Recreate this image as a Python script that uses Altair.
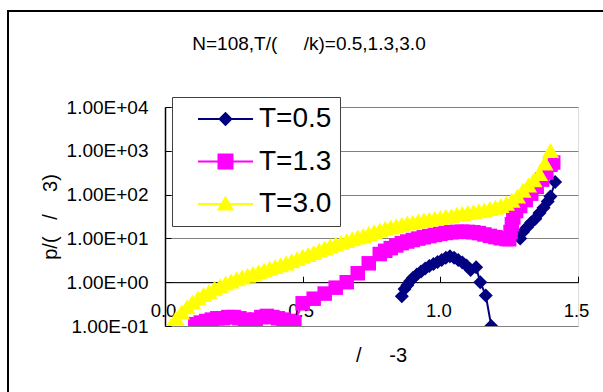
import altair as alt
import pandas as pd

# ---------------- data ----------------
series_names = ["T=0.5", "T=1.3", "T=3.0"]
series_colors = ["#000080", "#FF00FF", "#FFFF00"]

# T=0.5 (two separate branches, not joined)
t05a_x = [0.86, 0.87, 0.88, 0.89, 0.90, 0.915, 0.93, 0.945, 0.96, 0.975, 0.99, 1.005,
          1.02, 1.035, 1.05, 1.065, 1.08, 1.095, 1.11, 1.13, 1.145, 1.165, 1.185]
t05a_p = [0.48, 0.70, 0.85, 1.05, 1.25, 1.5, 1.75, 2.05, 2.35, 2.6, 2.9, 3.2,
          3.6, 3.9, 3.6, 3.2, 2.8, 2.4, 1.9, 2.2, 1.0, 0.5, 0.1]
t05b_x = [1.29, 1.30, 1.315, 1.33, 1.345, 1.36, 1.375, 1.39, 1.40, 1.417]
t05b_p = [10, 14, 18, 23, 28, 38, 50, 70, 90, 195]

# T=1.3
t13_x = [0.09, 0.11, 0.13, 0.15, 0.17, 0.19, 0.21, 0.23, 0.25, 0.27, 0.29, 0.31, 0.33,
         0.35, 0.37, 0.39, 0.41, 0.43, 0.45, 0.47,
         0.50, 0.54, 0.58, 0.62, 0.66, 0.70, 0.74, 0.78,
         0.80, 0.82, 0.84, 0.86, 0.88, 0.90, 0.92, 0.94, 0.96, 0.98, 1.00, 1.02, 1.04,
         1.06, 1.08, 1.10, 1.12, 1.14, 1.16, 1.18, 1.20, 1.22, 1.24, 1.25,
         1.255, 1.26, 1.265, 1.275, 1.29, 1.31, 1.33, 1.35, 1.37, 1.385, 1.40, 1.41]
t13_p = [0.06, 0.11, 0.12, 0.13, 0.14, 0.15, 0.15, 0.16, 0.16, 0.15, 0.14, 0.07, 0.14,
         0.16, 0.17, 0.16, 0.15, 0.14, 0.13, 0.12,
         0.33, 0.42, 0.55, 0.75, 1.0, 1.6, 2.7, 4.4,
         5.2, 6.0, 6.9, 7.8, 8.5, 9.2, 9.9, 10.6, 11.3, 12.0, 12.7, 13.3, 13.8,
         14.1, 14.2, 14.1, 13.8, 13.2, 12.3, 11.4, 10.7, 10.1, 9.7, 9.6,
         14, 21, 30, 42, 55, 75, 105, 150, 220, 320, 480, 540]

# T=3.0
t30_x = [0.02, 0.04, 0.06, 0.08, 0.10, 0.12, 0.14, 0.16, 0.18, 0.20,
         0.22, 0.24, 0.26, 0.28, 0.30, 0.32, 0.34, 0.36, 0.38, 0.40,
         0.42, 0.44, 0.46, 0.48, 0.50, 0.52, 0.54, 0.56, 0.58, 0.60,
         0.62, 0.64, 0.66, 0.68, 0.70, 0.72, 0.74, 0.76, 0.78, 0.80,
         0.82, 0.84, 0.86, 0.88, 0.90, 0.92, 0.94, 0.96, 0.98, 1.00,
         1.02, 1.04, 1.06, 1.08, 1.10, 1.12, 1.14, 1.16, 1.18, 1.20,
         1.22, 1.24, 1.26, 1.28, 1.30, 1.32, 1.34, 1.36, 1.38, 1.40]
t30_p = [0.100, 0.151, 0.209, 0.275, 0.355, 0.437, 0.525, 0.617, 0.724, 0.832,
         0.955, 1.07, 1.20, 1.32, 1.45, 1.58, 1.74, 1.91, 2.09, 2.29,
         2.51, 2.75, 3.09, 3.47, 3.89, 4.27, 4.79, 5.37, 6.03, 6.76,
         7.41, 8.13, 8.91, 9.77, 10.7, 11.7, 12.9, 14.1, 15.5, 17.0,
         18.2, 19.5, 20.9, 22.4, 23.4, 25.1, 26.3, 27.5, 28.8, 30.2,
         31.6, 33.1, 35.5, 37.2, 38.9, 40.7, 42.7, 44.7, 47.9, 51.3,
         56.2, 63.1, 74.1, 93.3, 126, 166, 219, 302, 525, 1020]

x_ticks = [0.0, 0.5, 1.0, 1.5]
y_ticks = [0.1, 1, 10, 100, 1000, 10000]
y_tick_labels = ["1.00E-01", "1.00E+00", "1.00E+01", "1.00E+02", "1.00E+03", "1.00E+04"]

NB = "\u00a0"
title_text = "N=108,T/(" + NB * 5 + "/k)=0.5,1.3,3.0"
x_title = "/" + NB * 5 + "-3"
y_title = "p/(" + NB * 3 + "/" + NB * 4 + "3)"

# ---------------- table ----------------
rows = []
for i, (x, p) in enumerate(zip(t05a_x, t05a_p)):
    rows.append({"series": "T=0.5", "seg": "a", "idx": i, "x": x, "p": p})
for i, (x, p) in enumerate(zip(t05b_x, t05b_p)):
    rows.append({"series": "T=0.5", "seg": "b", "idx": i, "x": x, "p": p})
for i, (x, p) in enumerate(zip(t13_x, t13_p)):
    rows.append({"series": "T=1.3", "seg": "a", "idx": i, "x": x, "p": p})
for i, (x, p) in enumerate(zip(t30_x, t30_p)):
    rows.append({"series": "T=3.0", "seg": "a", "idx": i, "x": x, "p": p})
df = pd.DataFrame(rows)

W, H = 413, 219
FONT = "Liberation Sans"

xs = alt.Scale(domain=[0, 1.5], nice=False, zero=False)
ys = alt.Scale(type="log", domain=[0.1, 10000], nice=False)

label_expr = ("[" + ",".join("'" + s + "'" for s in y_tick_labels) +
              "][round(log(datum.value)/LN10)+1]")

x_main_axis = alt.Axis(orient="bottom", offset=-H / 5, values=x_ticks, format=".1f",
                       labelFlush=False, labelOverlap=False, labelFontSize=18.5,
                       labelPadding=19, labelOffset=-2, labelFont=FONT, labelColor="black",
                       ticks=False, tickSize=0, domain=True, domainColor="black",
                       domainWidth=1, grid=False, title=x_title, titleFontSize=20,
                       titleFont=FONT, titleFontWeight="normal", titleColor="black",
                       titleX=216, titleY=72.8, titleBaseline="middle", titleAlign="center",
                       zindex=0)
y_main_axis = alt.Axis(orient="left", values=y_ticks, labelExpr=label_expr,
                       labelFontSize=19, labelPadding=17, labelFont=FONT, labelColor="black",
                       labelOverlap=False, labelFlush=False,
                       ticks=False, tickSize=0, domain=True, domainColor="black",
                       domainWidth=1.5, grid=True, gridColor="#808080", gridWidth=1,
                       title=y_title, titleFontSize=20, titleFont=FONT,
                       titleFontWeight="normal", titleColor="black",
                       titleX=-115, titleY=H / 2, titleAngle=270, titleBaseline="middle",
                       titleAlign="center", zindex=0)
x_tick_axis = alt.Axis(orient="top", offset=-(H - H / 5), values=x_ticks, labels=False,
                       ticks=True, tickSize=6, tickColor="black", tickWidth=1,
                       domain=False, grid=False, title=None, zindex=0)
y_tick_axis = alt.Axis(orient="right", offset=-W, values=y_ticks, labels=False,
                       ticks=True, tickSize=6, tickColor="black", tickWidth=1,
                       domain=False, grid=False, title=None, zindex=0)

shapes = {"T=0.5": ("diamond", 196), "T=1.3": ("square", 210), "T=3.0": ("triangle-up", 300)}

base = alt.Chart(df)
layers = []
for k, (s, c) in enumerate(zip(series_names, series_colors)):
    xa = x_main_axis if k == 0 else None
    ya = y_main_axis if k == 0 else None
    sub = base.transform_filter(alt.datum.series == s)
    line = sub.mark_line(color=c, strokeWidth=2, clip=True).encode(
        x=alt.X("x:Q", scale=xs, axis=xa),
        y=alt.Y("p:Q", scale=ys, axis=ya),
        detail="seg:N",
        order="idx:Q",
    )
    shp, sz = shapes[s]
    pts = sub.mark_point(shape=shp, size=sz, filled=True, color=c, opacity=1,
                         clip=True).encode(
        x=alt.X("x:Q", scale=xs, axis=None),
        y=alt.Y("p:Q", scale=ys, axis=None),
    )
    layers += [line, pts]

# legend carrier (its own marks lie outside the plot and are clipped away)
leg_df = pd.DataFrame({"series": series_names, "x": [0.75] * 3, "p": [0.001] * 3})
leg_paths = [
    "M-2.75,0H2.75M-0.58,0L0,-0.58L0.58,0L0,0.58Z",
    "M-2.75,0H2.75M-0.7,-0.7H0.7V0.7H-0.7Z",
    "M-2.75,0H2.75M0,-0.66L0.7,0.55L-0.7,0.55Z",
]
leg = alt.Legend(orient="none", legendX=7, legendY=-10, title=None, symbolSize=400,
                 symbolStrokeWidth=2, symbolOffset=31.5, labelOffset=19.5, padding=8,
                 rowPadding=14.5, labelFontSize=28, labelFont=FONT, labelColor="black",
                 fillColor="white", strokeColor="#404040", symbolOpacity=1,
                 labelExpr="datum.label + '\u00a0\u00a0\u00a0\u2009'")
legend_layer = alt.Chart(leg_df).mark_point(filled=True, opacity=1, strokeWidth=2,
                                             size=400, clip=True).encode(
    x=alt.X("x:Q", scale=xs, axis=x_tick_axis),
    y=alt.Y("p:Q", scale=ys, axis=y_tick_axis),
    fill=alt.Fill("series:N", scale=alt.Scale(domain=series_names, range=series_colors), legend=leg),
    stroke=alt.Stroke("series:N", scale=alt.Scale(domain=series_names, range=series_colors), legend=leg),
    shape=alt.Shape("series:N", scale=alt.Scale(domain=series_names, range=leg_paths), legend=leg),
)

frame = alt.Chart(pd.DataFrame({"k": [0]})).mark_rect(
    fillOpacity=0, stroke="black", strokeWidth=2).encode(
    x=alt.value(-157), x2=alt.value(448), y=alt.value(-96), y2=alt.value(295))

chart = alt.layer(frame, *layers, legend_layer).resolve_axis(
    x="independent", y="independent"
).properties(
    width=W, height=H,
    padding={"left": 165, "top": 107, "right": 25, "bottom": 66},
    autosize=alt.AutoSizeParams(type="none"),
    title=alt.TitleParams(text=title_text, fontSize=19, font=FONT, fontWeight="normal",
                          color="black", anchor="middle", frame="group", dx=-62.5,
                          offset=0, dy=63, baseline="bottom"),
).configure_view(fill="#CCFFFF", stroke="#808080", strokeWidth=2
).configure(background="white")

chart.save("out.html", embed_options={"renderer": "svg", "actions": False})
